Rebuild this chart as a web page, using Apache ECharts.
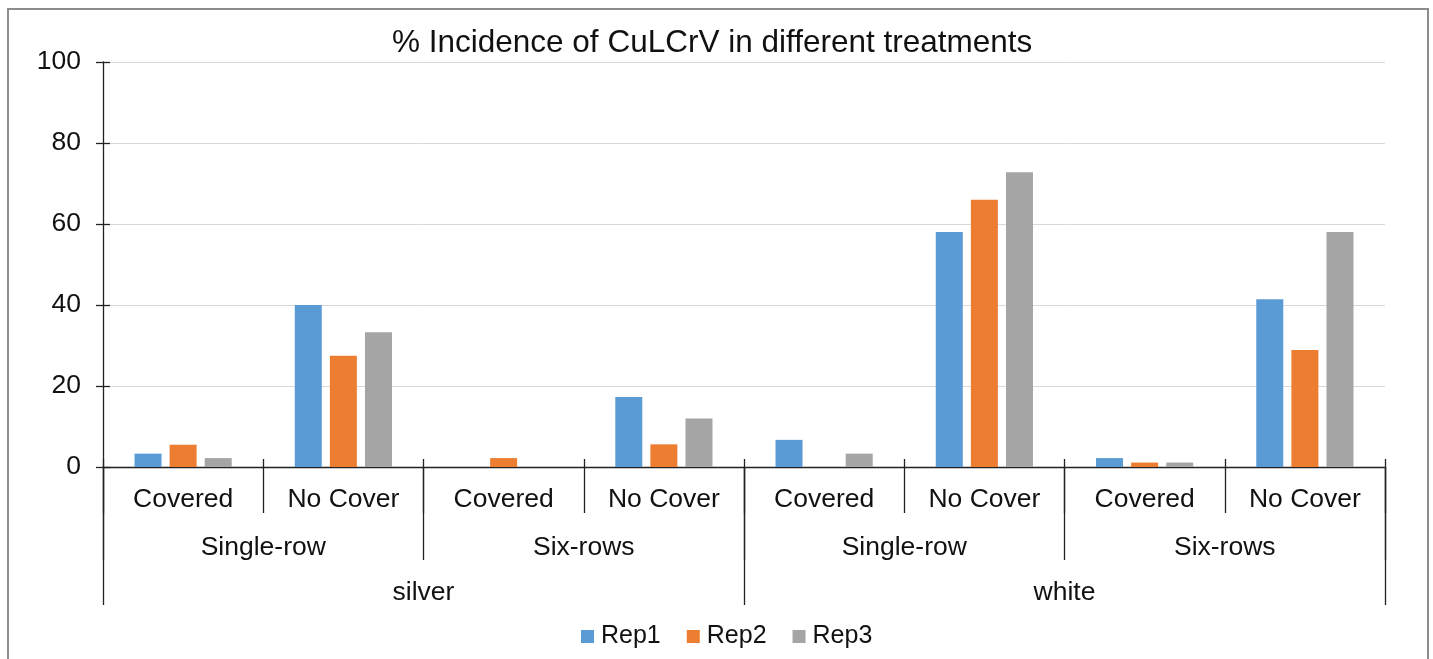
<!DOCTYPE html>
<html>
<head>
<meta charset="utf-8">
<script src="https://cdn.jsdelivr.net/npm/echarts@6/dist/echarts.min.js"></script>
<style>
html,body{margin:0;padding:0;background:#fff;}
#chart{width:1433px;height:659px;}
</style>
</head>
<body>
<div id="chart"></div>
<script>
// ---- data ----
const titleText = '% Incidence of CuLCrV in different treatments';
const coverLabels = ['Covered', 'No Cover', 'Covered', 'No Cover', 'Covered', 'No Cover', 'Covered', 'No Cover'];
const rowLabels = ['Single-row', 'Six-rows', 'Single-row', 'Six-rows'];
const mulchLabels = ['silver', 'white'];
const seriesNames = ['Rep1', 'Rep2', 'Rep3'];
const rep1 = [3.3, 40.0, 0, 17.3, 6.7, 58.0, 2.2, 41.4];
const rep2 = [5.5, 27.5, 2.2, 5.6, 0, 66.0, 1.1, 28.9];
const rep3 = [2.2, 33.3, 0, 12.0, 3.3, 72.8, 1.1, 58.0];
const yTicks = { min: 0, max: 100, interval: 20 };

const colors = ['#5b9bd5', '#ed7d31', '#a5a5a5'];
const FONT = '"Liberation Sans", Arial, sans-serif';
const lineStyle = { color: '#222', width: 1.3 };
const LBL = 26.5;

const chart = echarts.init(document.getElementById('chart'));
const option = {
  animation: false,
  textStyle: { fontFamily: FONT },
  title: {
    text: titleText, left: 387, top: 22,
    textStyle: { fontFamily: FONT, fontSize: 31.5, fontWeight: 'normal', color: '#111' }
  },
  graphic: [{
    type: 'rect', silent: true,
    shape: { x: 8, y: 9, width: 1420, height: 700 },
    style: { fill: 'none', stroke: '#8c8c8c', lineWidth: 2 }
  }],
  legend: {
    data: seriesNames, bottom: 5, left: 576, icon: 'rect',
    itemWidth: 13, itemHeight: 13, itemGap: 26,
    textStyle: { fontFamily: FONT, fontSize: 25, color: '#111', padding: [0, 0, 0, 2] }
  },
  grid: { left: 103, right: 48, top: 62, bottom: 192 },
  xAxis: [
    {
      type: 'category', data: coverLabels, position: 'bottom',
      axisLine: { show: true, lineStyle: lineStyle },
      axisTick: { show: true, interval: 0, length: 46, lineStyle: lineStyle },
      axisLabel: { interval: 0, margin: 19, fontSize: LBL, color: '#111', fontFamily: FONT },
      splitLine: { show: false }
    },
    {
      type: 'category', data: rowLabels, position: 'bottom',
      axisLine: { show: false },
      axisTick: { show: true, interval: 0, length: 93, lineStyle: lineStyle },
      axisLabel: { interval: 0, margin: 67, fontSize: LBL, color: '#111', fontFamily: FONT },
      splitLine: { show: false }
    },
    {
      type: 'category', data: mulchLabels, position: 'bottom',
      axisLine: { show: false },
      axisTick: { show: true, interval: 0, length: 138, lineStyle: lineStyle },
      axisLabel: { interval: 0, margin: 112, fontSize: LBL, color: '#111', fontFamily: FONT },
      splitLine: { show: false }
    },
    {
      type: 'category', data: coverLabels, position: 'bottom',
      axisLine: { show: false },
      axisTick: { show: true, inside: true, interval: 0, length: 8, lineStyle: lineStyle },
      axisLabel: { show: false },
      splitLine: { show: false }
    }
  ],
  yAxis: [
    {
      type: 'value', min: yTicks.min, max: yTicks.max, interval: yTicks.interval, position: 'left',
      axisLine: { show: true, lineStyle: lineStyle },
      axisTick: { show: true, length: 7, lineStyle: lineStyle },
      axisLabel: { margin: 22, fontSize: LBL, color: '#111', fontFamily: FONT },
      splitLine: { show: true, lineStyle: { color: '#d9d9d9', width: 1 } }
    },
    {
      type: 'value', min: yTicks.min, max: yTicks.max, interval: yTicks.interval, position: 'left',
      axisLine: { show: false },
      axisTick: { show: true, inside: true, length: 7, lineStyle: lineStyle },
      axisLabel: { show: false },
      splitLine: { show: false }
    }
  ],
  series: [rep1, rep2, rep3].map((d, i) => ({
    name: seriesNames[i], type: 'bar', data: d,
    xAxisIndex: 0, yAxisIndex: 0,
    barWidth: 27, barGap: '30%',
    itemStyle: { color: colors[i] }
  }))
};
chart.setOption(option);
</script>
</body>
</html>
